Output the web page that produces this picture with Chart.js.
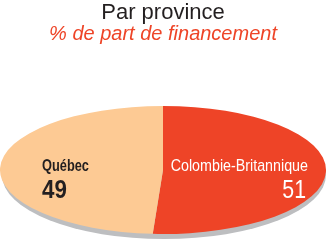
<!DOCTYPE html>
<html>
<head>
<meta charset="utf-8">
<script src="https://cdn.jsdelivr.net/npm/chart.js@4"></script>
<style>
html,body{margin:0;padding:0;background:#fff;}
canvas{display:block;}
</style>
</head>
<body>
<canvas id="c" width="326" height="245"></canvas>
<script>
const categories = ['Colombie-Britannique', 'Québec'];
const shares = [51, 49];
const sliceColors = ['#EE4427', '#FDCA94'];
const titleText = 'Par province';
const subtitleText = '% de part de financement';

// target ellipse geometry (style)
const EL = {cx: 163, cy: 170, rx: 163, ry: 64};
const FAM = '"Liberation Sans", Arial, sans-serif';

function condText(ctx, text, x, y, font, sx, align) {
  ctx.save();
  ctx.font = font;
  ctx.textAlign = align;
  ctx.translate(x, y);
  ctx.scale(sx, 1);
  ctx.fillText(text, 0, 0);
  ctx.restore();
}

const ellipsePlugin = {
  id: 'ellipse',
  beforeDatasetsDraw(chart) {
    const ctx = chart.ctx;
    const arc = chart.getDatasetMeta(0).data[0];
    ctx.save();
    ctx.fillStyle = '#BDBEC0';
    ctx.beginPath();
    ctx.ellipse(EL.cx + 1, EL.cy + 5, EL.rx - 1, EL.ry, 0, 0, Math.PI * 2);
    ctx.fill();
    ctx.restore();
    ctx.save();
    ctx.translate(EL.cx, EL.cy);
    ctx.scale(EL.rx / arc.outerRadius, EL.ry / arc.outerRadius);
    ctx.translate(-arc.x, -arc.y);
  },
  afterDatasetsDraw(chart) {
    chart.ctx.restore();
  },
  afterDraw(chart) {
    const ctx = chart.ctx;
    ctx.save();
    ctx.textBaseline = 'alphabetic';
    ctx.fillStyle = '#231F20';
    condText(ctx, categories[1], EL.cx - 121, EL.cy + 1, 'bold 16px ' + FAM, 0.8, 'left');
    condText(ctx, String(shares[1]), EL.cx - 121, EL.cy + 28, 'bold 26px ' + FAM, 0.86, 'left');
    ctx.fillStyle = '#FFFFFF';
    condText(ctx, categories[0], EL.cx + 145, EL.cy + 1, '17px ' + FAM, 0.84, 'right');
    condText(ctx, String(shares[0]), EL.cx + 143, EL.cy + 28, '26px ' + FAM, 0.82, 'right');
    ctx.restore();
  }
};

new Chart(document.getElementById('c'), {
  type: 'pie',
  data: {
    labels: categories,
    datasets: [{
      data: shares,
      backgroundColor: sliceColors,
      borderWidth: 0,
      clip: false
    }]
  },
  options: {
    responsive: false,
    animation: false,
    events: [],
    layout: {padding: 0},
    plugins: {
      legend: {display: false},
      tooltip: {enabled: false},
      title: {
        display: true,
        text: titleText,
        color: '#231F20',
        font: {family: FAM, size: 22, weight: 'normal', lineHeight: 1.0},
        padding: {top: 2, bottom: 0}
      },
      subtitle: {
        display: true,
        text: subtitleText,
        color: '#EE4427',
        font: {family: FAM, size: 20, style: 'italic', weight: 'normal', lineHeight: 1.0},
        padding: {top: 0, bottom: 10}
      }
    }
  },
  plugins: [ellipsePlugin]
});
</script>
</body>
</html>
